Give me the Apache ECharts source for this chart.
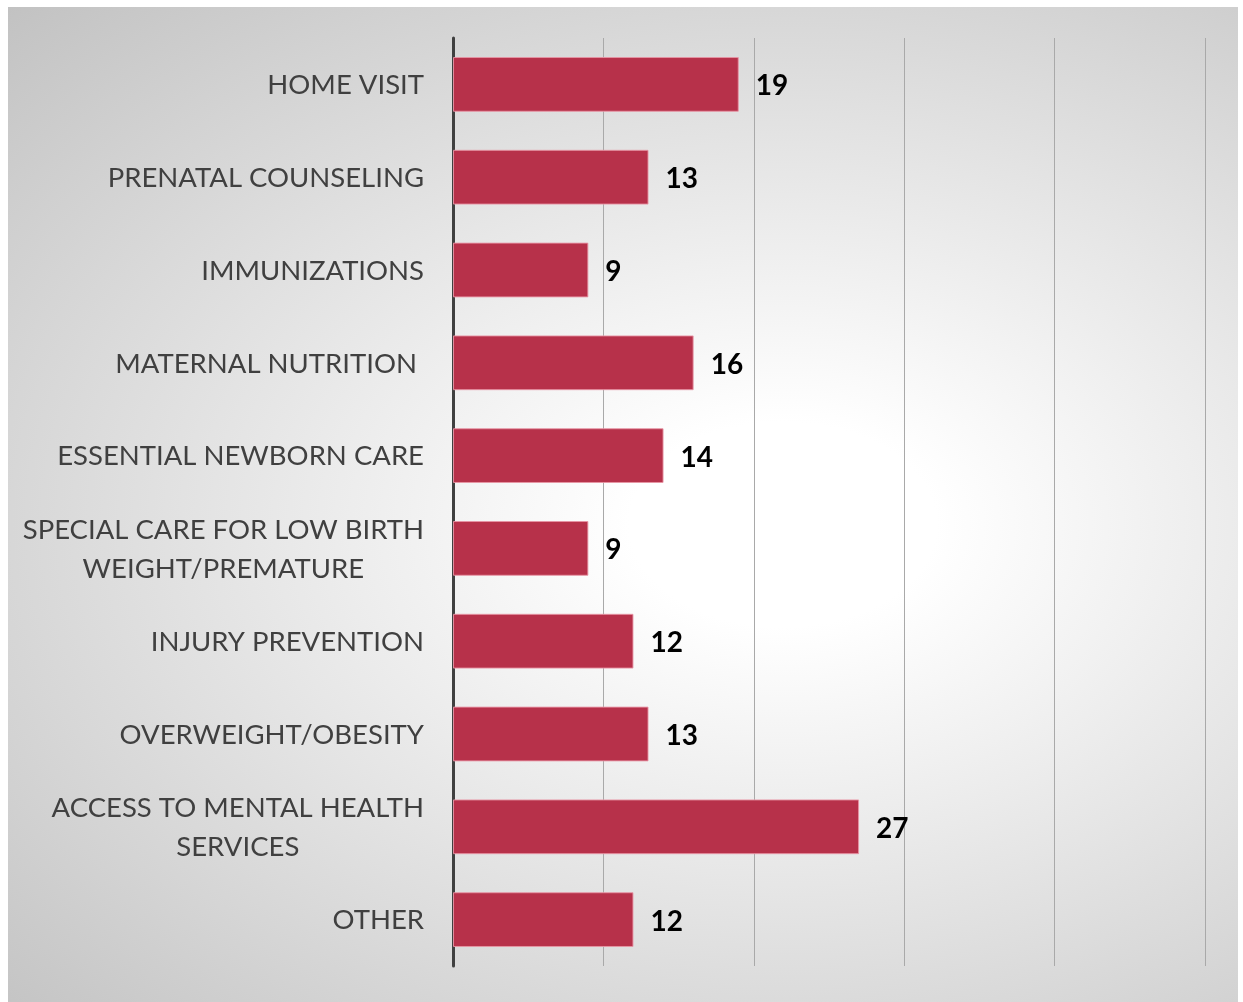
<!DOCTYPE html>
<html>
<head>
<meta charset="utf-8">
<script src="https://cdn.jsdelivr.net/npm/echarts@6/dist/echarts.min.js"></script>
<style>
  html, body { margin: 0; padding: 0; background: #ffffff; }
  #frame {
    position: absolute; left: 8px; top: 7px; width: 1230px; height: 995px;
    background: radial-gradient(ellipse farthest-corner at 63% 52%, #ffffff 0%, #ffffff 14%, #c2c2c2 100%);
  }
  #chart { width: 1230px; height: 995px; }
</style>
</head>
<body>
<div id="frame"><div id="chart"></div></div>
<script>
// Services offered, count of responses per category
const categories = [
  'HOME VISIT',
  'PRENATAL COUNSELING',
  'IMMUNIZATIONS',
  'MATERNAL NUTRITION ',
  'ESSENTIAL NEWBORN CARE',
  'SPECIAL CARE FOR LOW BIRTH\nWEIGHT/PREMATURE',
  'INJURY PREVENTION',
  'OVERWEIGHT/OBESITY',
  'ACCESS TO MENTAL HEALTH\nSERVICES',
  'OTHER'
];
const counts = [19, 13, 9, 16, 14, 9, 12, 13, 27, 12];
const axisMin = 0;
const axisMax = 50;
const axisStep = 10;

const FONT = 'Lato, "Open Sans", sans-serif';

const chart = echarts.init(document.getElementById('chart'), null, { renderer: 'canvas' });

chart.setOption({
  backgroundColor: 'transparent',
  animation: false,
  grid: { left: 445, right: 33, top: 31, bottom: 36, containLabel: false },
  xAxis: {
    type: 'value',
    min: axisMin,
    max: axisMax,
    interval: axisStep,
    axisLine: { show: false },
    axisTick: { show: false },
    axisLabel: { show: false },
    splitLine: { show: true, lineStyle: { color: '#a9a9a9', width: 1 } }
  },
  yAxis: {
    type: 'category',
    data: categories,
    inverse: true,
    axisLine: { show: true, lineStyle: { color: '#404040', width: 3 } },
    axisTick: { show: false },
    axisLabel: {
      margin: 29,
      color: '#404040',
      fontFamily: FONT,
      fontSize: 27.5,
      lineHeight: 39,
      formatter: function (v) {
        return v.split('\n').map(function (line) { return '{c|' + line + '}'; }).join('\n');
      },
      rich: {
        c: { align: 'center', color: '#404040', fontFamily: FONT, fontSize: 27.5, lineHeight: 39, padding: [2, 0, 0, 0] }
      }
    }
  },
  series: [{
    type: 'bar',
    data: counts,
    barWidth: '59%',
    itemStyle: {
      color: '#b7314a',
      borderColor: 'rgba(232,150,165,0.9)',
      borderWidth: 1
    },
    label: {
      show: true,
      position: 'right',
      distance: 17,
      offset: [0, 2],
      color: '#000000',
      fontFamily: FONT,
      fontWeight: 'bold',
      fontSize: 28
    }
  }]
});
</script>
</body>
</html>
